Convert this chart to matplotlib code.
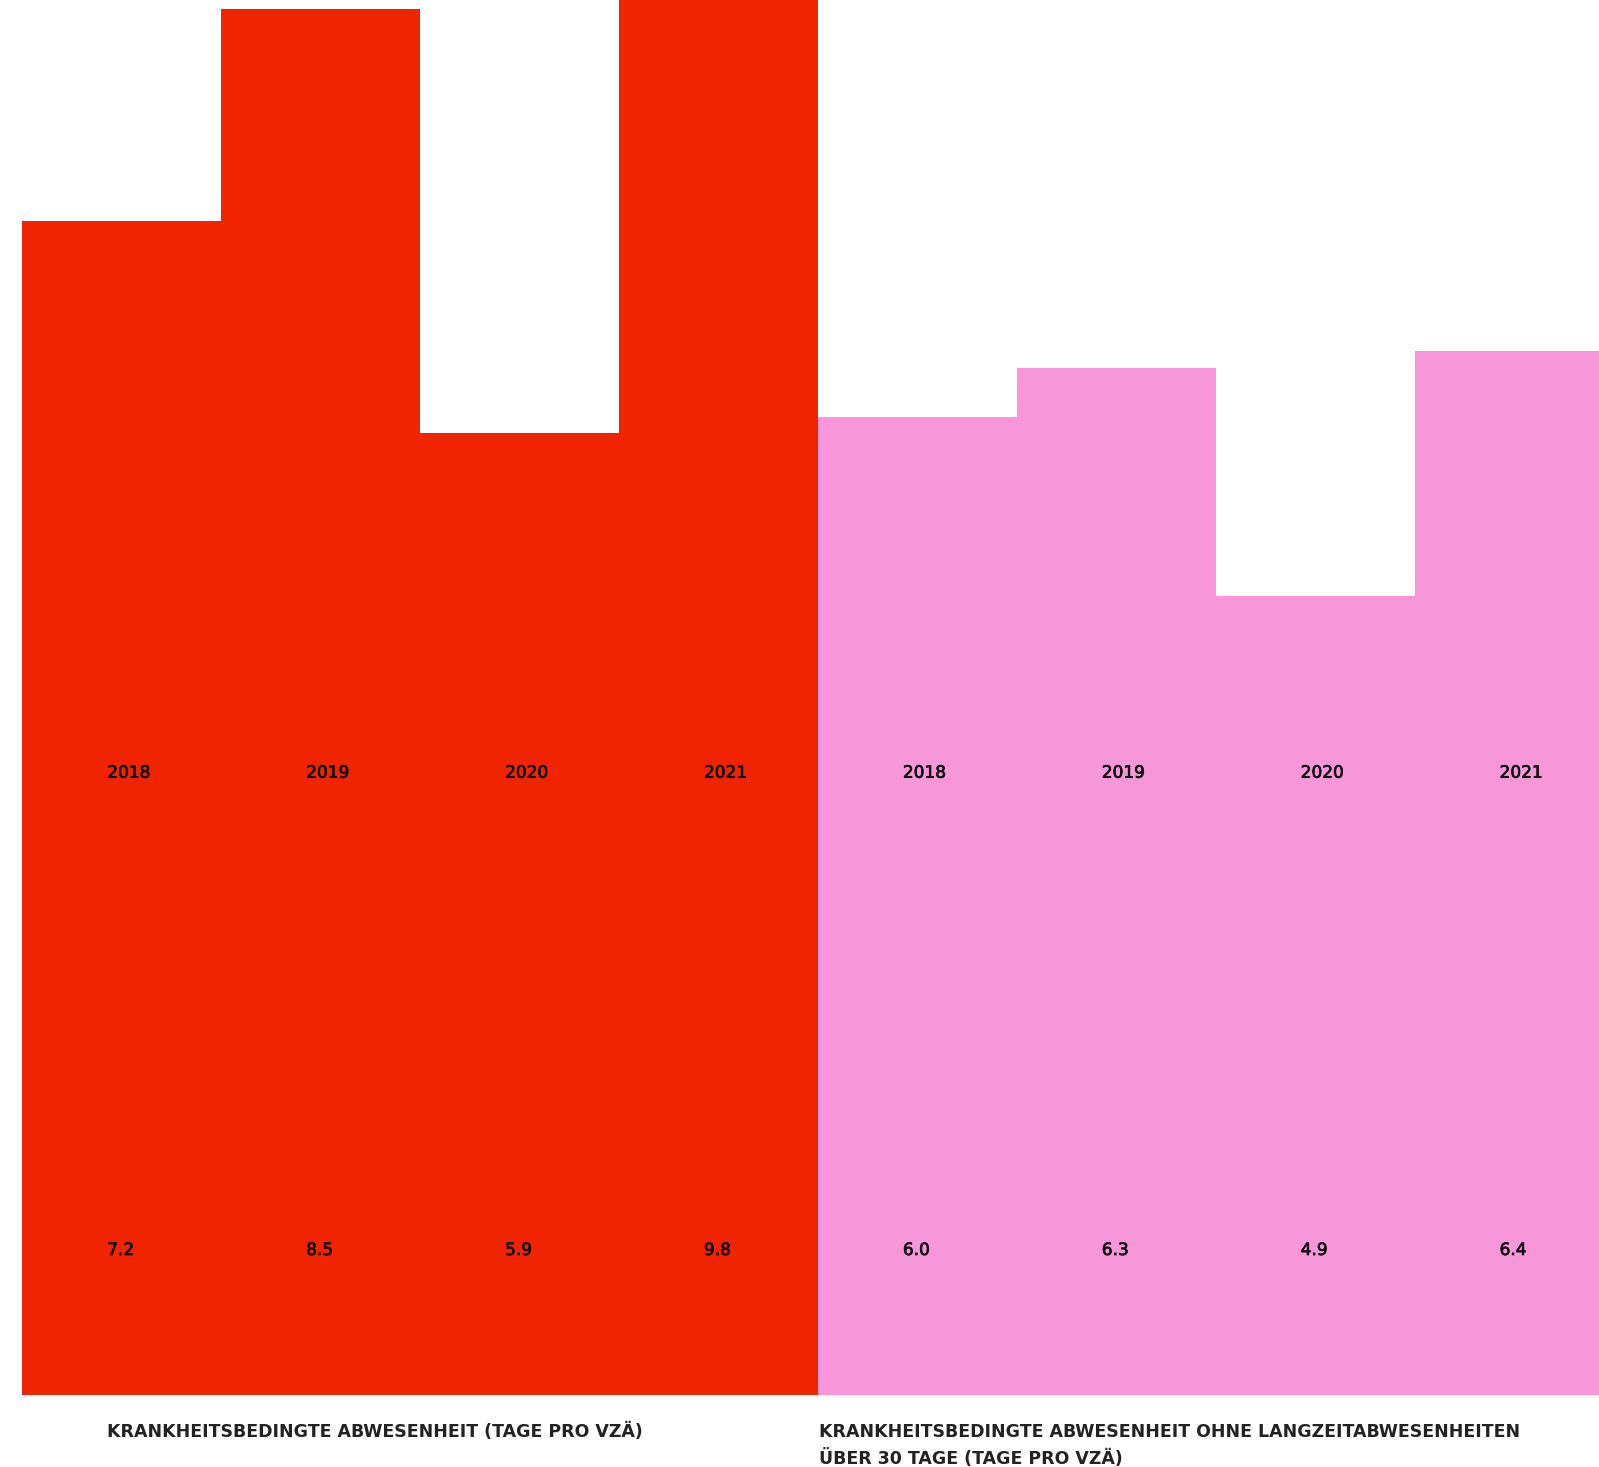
import matplotlib
matplotlib.use('Agg')
import matplotlib.pyplot as plt
import matplotlib.patheffects as pe
from matplotlib.transforms import blended_transform_factory

# --- DATA ---
years = ['2018', '2019', '2020', '2021']
gesamt = [7.2, 8.5, 5.9, 9.8]          # Tage pro VZÄ
ohne_langzeit = [6.0, 6.3, 4.9, 6.4]   # ohne Abwesenheiten > 30 Tage
titel_links = 'KRANKHEITSBEDINGTE ABWESENHEIT (TAGE PRO VZÄ)'
titel_rechts = ['KRANKHEITSBEDINGTE ABWESENHEIT OHNE LANGZEITABWESENHEITEN',
                'ÜBER 30 TAGE (TAGE PRO VZÄ)']

# --- STYLE ---
RED, PINK = '#f02400', '#f896da'
W, H = 1599, 1467
BASE = 1395            # pixel row of the bar baseline
BAR_PX = 198.9         # bar width in pixels
LEFT_PX = 22.3
PX_PER_DAY = 163.05
FONT = 'DejaVu Sans'
INK = '#111111'
heavier = [pe.withStroke(linewidth=0.5, foreground=INK)]

fig = plt.figure(figsize=(W / 100, H / 100), dpi=100)
ax = fig.add_axes([0, 1 - BASE / H, 1, BASE / H])
ax.set_xlim(-LEFT_PX / BAR_PX, (W - LEFT_PX) / BAR_PX)
ax.set_ylim(0, BASE / PX_PER_DAY)
ax.axis('off')

values = gesamt + ohne_langzeit
labels = years + years
colors = [RED] * len(gesamt) + [PINK] * len(ohne_langzeit)
xs = list(range(len(values)))
ax.bar(xs, values, width=1.0, align='edge', color=colors, linewidth=0)

tr = blended_transform_factory(ax.transData, fig.transFigure)
off = 85 / BAR_PX
for x, lab, v in zip(xs, labels, values):
    ax.text(x + off, 1 - 777.7 / H, lab, transform=tr, ha='left', va='baseline',
            fontsize=12.2, family=FONT, color=INK, path_effects=heavier)
    ax.text(x + off, 1 - 1255 / H, f'{v:.1f}', transform=tr, ha='left', va='baseline',
            fontsize=12.2, family=FONT, color=INK, path_effects=heavier)

# series titles under the bars
fig.text(107 / W, 1 - 1437 / H, titel_links, ha='left', va='baseline',
         fontsize=12.5, fontweight='bold', family=FONT, color='#222222')
for i, line in enumerate(titel_rechts):
    fig.text(819 / W, 1 - (1437 + 27 * i) / H, line, ha='left', va='baseline',
             fontsize=12.5, fontweight='bold', family=FONT, color='#222222')

fig.savefig('out.png', dpi=100, facecolor='white')
